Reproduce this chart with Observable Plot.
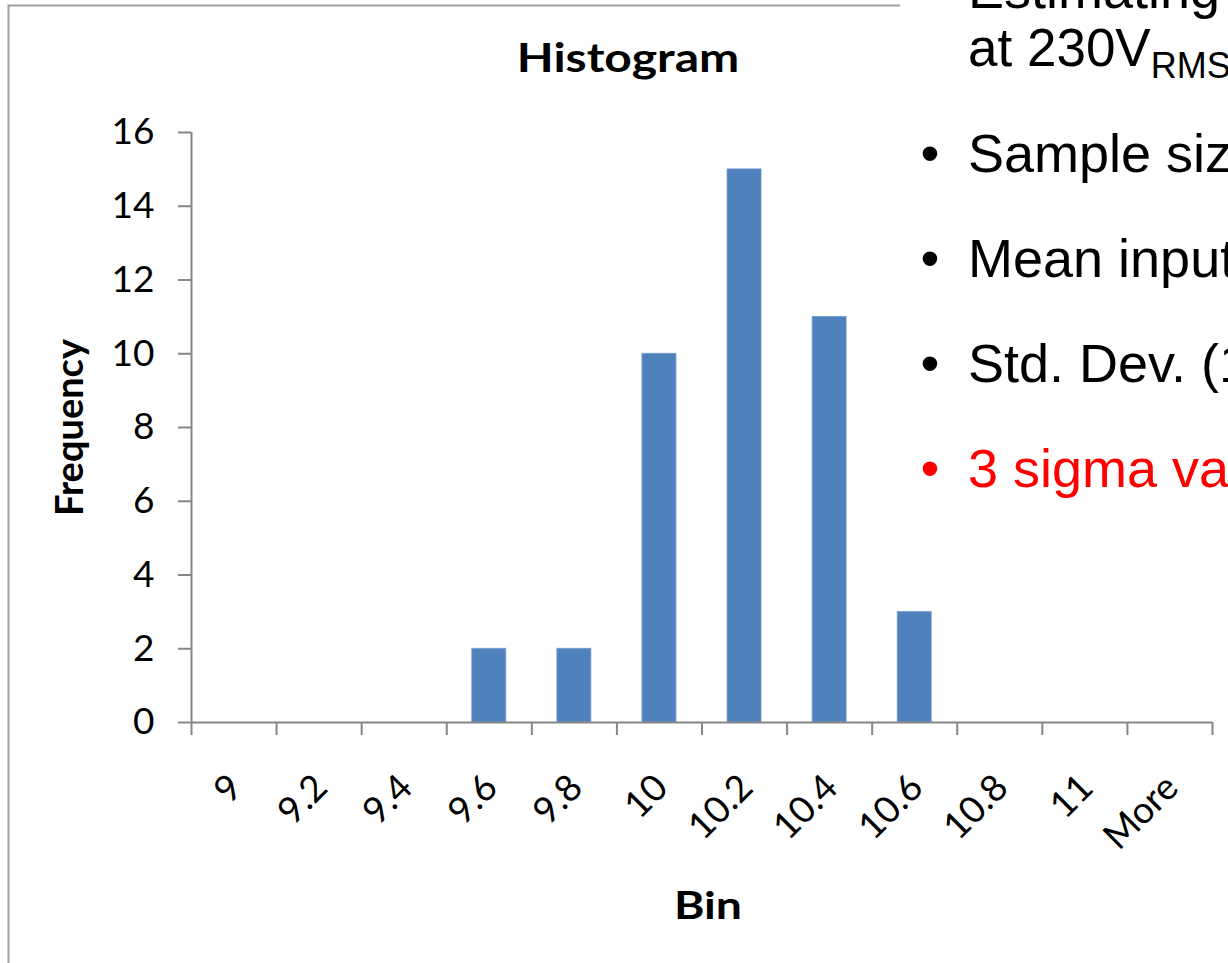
<!DOCTYPE html>
<html>
<head>
<meta charset="utf-8">
<script src="https://cdn.jsdelivr.net/npm/d3@7"></script>
<script src="https://cdn.jsdelivr.net/npm/@observablehq/plot@0.6"></script>
<style>
  html, body { margin: 0; padding: 0; background: #fff; overflow: hidden; }
  #wrap { position: relative; width: 1228px; height: 963px; overflow: hidden; }
  #wrap > svg { position: absolute; left: 0; top: 0; }
</style>
</head>
<body>
<div id="wrap"></div>
<script>
// ---- data ----
const bins = ["9", "9.2", "9.4", "9.6", "9.8", "10", "10.2", "10.4", "10.6", "10.8", "11", "More"];
const frequency = [0, 0, 0, 2, 2, 10, 15, 11, 3, 0, 0, 0];
const yTicks = [0, 2, 4, 6, 8, 10, 12, 14, 16];
const chartTitle = "Histogram";
const xTitle = "Bin";
const yTitle = "Frequency";
const slideHeading = ["Estimating", "at 230V"];
const slideSub = "RMS";
const slideBullets = ["Sample siz", "Mean input", "Std. Dev. (1", "3 sigma va"];
const bulletColors = ["#000000", "#000000", "#000000", "#FF0000"];

const rows = bins.map((b, i) => ({bin: b, i, freq: frequency[i]}));
const edges = d3.range(bins.length + 1);

const axisGray = "#868686";
const uiFont = "Lato, 'Open Sans', sans-serif";

const chart = Plot.plot({
  width: 1228,
  height: 963,
  marginLeft: 191,
  marginRight: 16,
  marginTop: 132,
  marginBottom: 241,
  style: {background: "transparent", overflow: "visible", fontFamily: uiFont},
  x: {type: "linear", domain: [0, bins.length], axis: null},
  y: {domain: [0, 16], axis: null},
  marks: [
    Plot.rectY(rows, {
      x1: d => d.i + 0.3,
      x2: d => d.i + 0.7,
      y1: 0,
      y2: "freq",
      fill: "#4F81BD",
      stroke: "#7D9FCF",
      strokeWidth: 0.8
    }),
    Plot.axisY({
      ticks: yTicks,
      tickSize: 13,
      tickPadding: 24,
      stroke: axisGray,
      strokeWidth: 2,
      fill: "#000",
      fontSize: 37,
      fontFamily: uiFont,
      label: null
    }),
    Plot.axisX({
      ticks: edges,
      tickSize: 13,
      tickFormat: () => "",
      stroke: axisGray,
      strokeWidth: 2,
      label: null
    }),
    Plot.ruleY([0], {stroke: axisGray, strokeWidth: 2}),
    Plot.ruleX([0], {stroke: axisGray, strokeWidth: 2}),
    Plot.text(rows, {
      x: d => d.i + 0.5,
      y: 0,
      text: "bin",
      rotate: -45,
      textAnchor: "end",
      lineAnchor: "middle",
      dx: 2,
      dy: 59,
      fontSize: 37,
      fontFamily: uiFont,
      fill: "#000"
    }),
    Plot.text([yTitle], {
      frameAnchor: "left",
      textAnchor: "middle",
      dx: -121,
      rotate: -90,
      fontSize: 38,
      fontWeight: "bold",
      fontFamily: uiFont,
      fill: "#000"
    })
  ]
});

const wrap = document.getElementById("wrap");
wrap.appendChild(chart);

// ---- overlay: chart box, title, x title, slide text ----
const ov = d3.select(wrap).append("svg")
  .attr("width", 1228).attr("height", 963)
  .style("pointer-events", "none");

ov.append("path")
  .attr("d", "M8.5,963 V5.5 H1300")
  .attr("fill", "none")
  .attr("stroke", "#A0A0A0")
  .attr("stroke-width", 2);

ov.append("text")
  .attr("transform", "translate(628,72) scale(1.2,1)")
  .attr("text-anchor", "middle")
  .attr("font-family", uiFont)
  .attr("font-weight", "bold")
  .attr("font-size", 40)
  .text(chartTitle);

ov.append("text")
  .attr("transform", "translate(708,919) scale(1.22,1)")
  .attr("text-anchor", "middle")
  .attr("font-family", uiFont)
  .attr("font-weight", "bold")
  .attr("font-size", 38)
  .text(xTitle);

// slide text box (white fill over chart top)
ov.append("rect")
  .attr("x", 900).attr("y", 0).attr("width", 328).attr("height", 520)
  .attr("fill", "#fff");

const slideFont = "'Liberation Sans', Arial, sans-serif";
ov.append("text")
  .attr("x", 968).attr("y", 8)
  .attr("font-family", slideFont).attr("font-size", 54)
  .text(slideHeading[0]);
const l2 = ov.append("text")
  .attr("x", 968).attr("y", 66)
  .attr("font-family", slideFont).attr("font-size", 53);
l2.append("tspan").text(slideHeading[1]);
l2.append("tspan").attr("font-size", 36).attr("dy", 12).text(slideSub);

slideBullets.forEach((t, k) => {
  const base = 172 + k * 105;
  ov.append("text")
    .attr("x", 930).attr("y", base)
    .attr("text-anchor", "middle")
    .attr("font-family", slideFont).attr("font-size", 54)
    .attr("fill", bulletColors[k])
    .text("\u2022");
  ov.append("text")
    .attr("x", 968).attr("y", base)
    .attr("font-family", slideFont).attr("font-size", 54)
    .attr("fill", bulletColors[k])
    .text(t);
});
</script>
</body>
</html>
